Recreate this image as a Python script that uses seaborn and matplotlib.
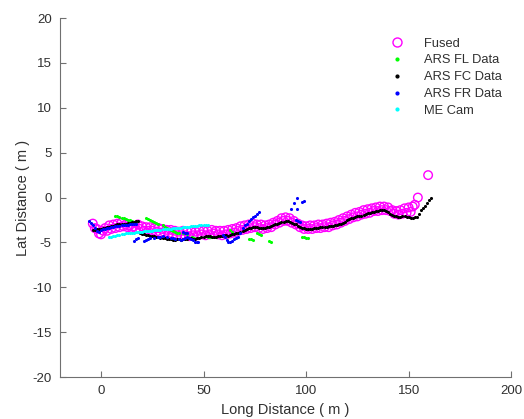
import matplotlib
matplotlib.use("Agg")
import matplotlib.pyplot as plt
from matplotlib.lines import Line2D
import seaborn as sns

# Fused track (open circles)
fused_x = [-4, -3, -2, -1, 0, 1, 2, 3, 4, 5,
           6, 7, 8, 9, 10, 11, 12, 13, 14, 15,
           16, 17, 18, 19, 20, 21, 22, 23, 24, 25,
           26, 27, 28, 29, 30, 31, 32, 33, 34, 35,
           36, 37, 38, 39, 40, 41, 42, 43, 44, 45,
           46, 47, 48, 49, 50, 51, 52, 53, 54, 55,
           56, 57, 58, 59, 60, 61, 62, 63, 64, 65,
           66, 67, 68, 69, 70, 71, 72, 73, 74, 75,
           76, 77, 78, 79, 80, 81, 82, 83, 84, 85,
           86, 87, 88, 89, 90, 91, 92, 93, 94, 95,
           96, 97, 98, 99, 100, 101, 102, 103, 104, 105,
           106, 107, 108, 109, 110, 111, 112, 113, 114, 115,
           116, 117, 118, 119, 120, 121, 122, 123, 124, 125,
           126, 127, 128, 129, 130, 131, 132, 133, 134, 135,
           136, 137, 138, 139, 140, 141, 142, 143, 144, 145,
           146, 147, 148, 149, 150, 151, 152, 153, 154.5, 159.5]
fused_y = [-2.9, -3.4, -3.5, -4.0, -4.1, -3.7, -3.4, -3.7, -3.1, -3.5,
           -3.0, -3.4, -2.9, -3.3, -2.8, -3.2, -3.0, -3.3, -3.1, -3.4,
           -3.2, -3.5, -3.0, -3.5, -3.2, -3.7, -3.3, -3.7, -3.3, -3.7,
           -3.4, -3.8, -3.4, -3.9, -3.5, -3.9, -3.6, -4.0, -3.6, -4.1,
           -3.7, -4.2, -3.8, -4.2, -3.7, -4.2, -3.8, -4.3, -3.8, -4.2,
           -3.8, -4.2, -3.7, -4.1, -3.7, -4.2, -3.7, -4.1, -3.6, -4.0,
           -3.7, -4.1, -3.7, -4.2, -3.7, -4.1, -3.6, -4.0, -3.5, -3.9,
           -3.4, -3.7, -3.2, -3.6, -3.1, -3.5, -3.0, -3.4, -2.9, -3.3,
           -3.0, -3.4, -3.0, -3.5, -3.1, -3.4, -3.0, -3.3, -2.8, -3.0,
           -2.6, -2.8, -2.3, -2.6, -2.2, -2.6, -2.3, -2.8, -2.6, -3.0,
           -2.9, -3.3, -3.1, -3.5, -3.2, -3.5, -3.1, -3.5, -3.1, -3.4,
           -3.0, -3.4, -3.0, -3.3, -2.9, -3.3, -2.8, -3.1, -2.7, -3.0,
           -2.5, -2.8, -2.3, -2.6, -2.1, -2.4, -1.9, -2.2, -1.7, -2.1,
           -1.6, -1.9, -1.4, -1.8, -1.3, -1.7, -1.2, -1.5, -1.1, -1.5,
           -1.0, -1.4, -1.0, -1.4, -1.1, -1.5, -1.4, -1.8, -1.5, -1.9,
           -1.4, -1.8, -1.2, -1.7, -1.1, -1.6, -1.0, -0.8, 0.0, 2.5]

# ARS front-left radar
fl_x = [7, 8, 9, 10, 11, 12, 13, 14, 15, 16, 17,
        22, 23, 24, 25, 26, 27, 28,
        30, 31, 32, 33, 34, 35, 36,
        37, 38, 40, 41, 42, 44.6, 45.5, 52, 53, 54, 55,
        63, 64, 72, 73, 74, 76, 77, 78, 82, 83, 98, 99, 100, 101]
fl_y = [-2.0, -2.1, -2.2, -2.3, -2.3, -2.4, -2.5, -2.5, -2.6, -2.7, -2.7,
        -2.3, -2.4, -2.5, -2.6, -2.7, -2.8, -3.0,
        -3.1, -3.3, -3.4, -3.5, -3.6, -3.7, -3.8,
        -3.9, -4.0, -3.9, -4.0, -4.1, -4.4, -4.5, -4.4, -4.4, -4.4, -4.4,
        -3.6, -3.8, -4.6, -4.6, -4.7, -4.0, -4.1, -4.2, -4.8, -4.9, -4.4, -4.4, -4.5, -4.5]

# ARS front-centre radar
fc_x = [-4, -3, -2, -1, 0, 1, 2, 3, 4, 5, 6, 7, 8, 9, 10, 11, 12, 13, 14, 15, 16, 17, 18,
        19, 20, 21, 22, 23, 24, 25, 26, 27, 28, 29, 30,
        31, 32, 33, 34, 35, 36, 37, 38, 39, 40,
        41, 42, 43, 44, 45, 46, 47, 48, 49, 50,
        51, 52, 53, 54, 55, 56, 57, 58, 59, 60,
        61, 62, 63, 64, 65, 66, 67, 68, 69, 70,
        71, 72, 73, 74, 75, 76, 77, 78, 79, 80,
        81, 82, 83, 84, 85, 86, 87, 88, 89, 90,
        91, 92, 93, 94, 95, 96, 97, 98, 99, 100,
        101, 102, 103, 104, 105, 106, 107, 108, 109, 110,
        111, 112, 113, 114, 115, 116, 117, 118, 119, 120,
        121, 122, 123, 124, 125, 126, 127, 128, 129, 130,
        131, 132, 133, 134, 135, 136, 137, 138, 139, 140,
        141, 142, 143, 144, 145, 146, 147, 148, 149, 150,
        151, 152, 153, 154, 155, 156, 157, 158, 159, 160, 161]
fc_y = [-3.6, -3.6, -3.5, -3.5, -3.5, -3.4, -3.4, -3.3, -3.3, -3.2, -3.2, -3.1, -3.0, -3.0,
        -3.0, -2.9, -2.9, -2.8, -2.8, -2.7, -2.7, -2.6, -2.6,
        -4.0, -4.1, -4.1, -4.2, -4.2, -4.3, -4.3, -4.3, -4.4, -4.4, -4.5, -4.5,
        -4.5, -4.6, -4.6, -4.6, -4.7, -4.7, -4.6, -4.6, -4.7, -4.6,
        -4.6, -4.6, -4.5, -4.5, -4.6, -4.6, -4.5, -4.5, -4.4, -4.4,
        -4.3, -4.3, -4.3, -4.4, -4.4, -4.4, -4.3, -4.3, -4.3, -4.2,
        -4.2, -4.3, -4.2, -4.1, -4.1, -4.0, -3.9, -3.8, -3.7, -3.6,
        -3.5, -3.4, -3.4, -3.3, -3.3, -3.3, -3.4, -3.4, -3.4, -3.4,
        -3.3, -3.3, -3.2, -3.1, -3.0, -2.9, -2.8, -2.7, -2.7, -2.6,
        -2.6, -2.7, -2.8, -2.9, -3.0, -3.2, -3.3, -3.4, -3.4, -3.5,
        -3.5, -3.5, -3.5, -3.4, -3.4, -3.4, -3.3, -3.3, -3.3, -3.3,
        -3.2, -3.2, -3.2, -3.1, -3.1, -3.0, -2.9, -2.8, -2.7, -2.5,
        -2.4, -2.3, -2.3, -2.2, -2.1, -2.0, -2.0, -1.9, -1.8, -1.7,
        -1.7, -1.6, -1.6, -1.5, -1.5, -1.4, -1.4, -1.4, -1.5, -1.6,
        -1.8, -1.9, -2.0, -2.1, -2.2, -2.2, -2.1, -2.1, -2.2, -2.2,
        -2.3, -2.3, -2.2, -2.2, -1.8, -1.4, -1.2, -0.9, -0.6, -0.3, 0.0]

# ARS front-right radar
fr_x = [-6, -5, -4, -3, -2, -1, 0, 1, 2, 3, 4, 5, 6, 7, 8, 9, 10, 11, 12, 13, 14, 15, 16, 17,
        16, 17, 18,
        21, 22, 23, 24, 26, 28, 29, 30, 32, 34, 35, 36, 38, 39, 40, 41, 42, 43, 44, 45,
        40, 41, 42, 46, 47, 47.5,
        59.5, 60.5, 61.5, 62,
        63, 64, 65, 66, 67, 68, 69, 70, 71, 72, 73, 74, 75, 76, 77,
        92.7, 94, 95.5, 95.6, 98, 99, 95, 96, 97]
fr_y = [-2.6, -2.8, -3.1, -3.4, -3.7, -3.8, -3.6, -3.5, -3.5, -3.4, -3.4, -3.3, -3.3, -3.2,
        -3.2, -3.2, -3.1, -3.1, -3.1, -3.1, -3.0, -3.0, -3.0, -3.0,
        -4.8, -4.6, -4.5,
        -4.8, -4.7, -4.6, -4.5, -4.5, -4.4, -4.4, -4.3, -4.4, -4.5, -4.5, -4.6, -4.6, -4.7,
        -4.6, -4.5, -4.4, -4.5, -4.6, -4.7,
        -3.8, -3.9, -4.0, -4.9, -5.0, -4.9,
        -4.2, -4.4, -4.7, -5.0,
        -4.9, -4.8, -4.6, -4.5, -4.4, -3.9, -3.4, -3.1, -2.9, -2.6, -2.4, -2.2, -2.0, -1.8, -1.6,
        -1.3, -0.6, 0.0, -1.3, -0.5, -0.4, -2.5, -2.6, -2.7]

# ME camera lane estimate
cam_x = [4, 5, 6, 7, 8, 9, 10, 11, 12, 13, 14, 15, 16, 17, 18, 19, 20, 21, 22, 23, 24, 25,
         26, 27, 28, 29, 30, 31, 32, 33, 34, 35, 36, 37, 38, 39, 40, 41, 42, 43, 44, 45,
         46, 47, 48, 49, 50, 51, 52]
cam_y = [-4.4, -4.4, -4.3, -4.3, -4.2, -4.2, -4.1, -4.1, -4.0, -4.0, -3.9, -3.9, -3.9,
         -3.8, -3.8, -3.8, -3.8, -3.7, -3.7, -3.7, -3.7, -3.7, -3.6, -3.6, -3.6, -3.6,
         -3.5, -3.5, -3.5, -3.5, -3.5, -3.4, -3.4, -3.4, -3.4, -3.4, -3.3, -3.3, -3.3,
         -3.3, -3.2, -3.2, -3.2, -3.2, -3.1, -3.1, -3.1, -3.1, -3.1]

x_ticks = [0, 50, 100, 150, 200]
y_ticks = [-20, -15, -10, -5, 0, 5, 10, 15, 20]

sns.set_style("white")
plt.rcParams["font.family"] = ["Liberation Sans", "DejaVu Sans"]
plt.rcParams["axes.unicode_minus"] = False

AX_COLOR = "#707070"
TXT_COLOR = "#303030"
MAGENTA = "#FF00FF"
GREEN = "#00FF00"
BLUE = "#0000FF"
CYAN = "#00FFFF"

fig = plt.figure(figsize=(5.24, 4.19), dpi=100)
ax = fig.add_axes([0.1145, 0.100, 0.861, 0.857])

sns.scatterplot(x=fused_x, y=fused_y, ax=ax, marker="o", s=38,
                facecolors="none", edgecolor=MAGENTA, linewidth=1.0, zorder=2)
sns.scatterplot(x=fl_x, y=fl_y, ax=ax, marker="o", s=5, color=GREEN, linewidth=0, zorder=3)
sns.scatterplot(x=fc_x, y=fc_y, ax=ax, marker="o", s=5, color="black", linewidth=0, zorder=4)
sns.scatterplot(x=fr_x, y=fr_y, ax=ax, marker="o", s=5, color=BLUE, linewidth=0, zorder=5)
sns.scatterplot(x=cam_x, y=cam_y, ax=ax, marker="o", s=5, color=CYAN, linewidth=0, zorder=6)

ax.set_xlim(-20, 200)
ax.set_ylim(-20, 20)
ax.set_xticks(x_ticks)
ax.set_yticks(y_ticks)
ax.tick_params(axis="both", which="major", bottom=True, left=True, direction="in",
               length=4, width=0.8, color=AX_COLOR, labelsize=9.5,
               labelcolor=TXT_COLOR, pad=6)
for side in ("top", "right"):
    ax.spines[side].set_visible(False)
for side in ("left", "bottom"):
    ax.spines[side].set_color(AX_COLOR)
    ax.spines[side].set_linewidth(0.8)

ax.set_xlabel("Long Distance ( m )", fontsize=10.5, color=TXT_COLOR, labelpad=4)
ax.set_ylabel("Lat Distance ( m )", fontsize=10.5, color=TXT_COLOR, labelpad=2)

handles = [
    Line2D([], [], linestyle="none", marker="o", markersize=6.5, markerfacecolor="none",
           markeredgecolor=MAGENTA, markeredgewidth=1.0),
    Line2D([], [], linestyle="none", marker="o", markersize=2.0, color=GREEN),
    Line2D([], [], linestyle="none", marker="o", markersize=2.0, color="black"),
    Line2D([], [], linestyle="none", marker="o", markersize=2.0, color=BLUE),
    Line2D([], [], linestyle="none", marker="o", markersize=2.0, color=CYAN),
]
labels = ["Fused", "ARS FL Data", "ARS FC Data", "ARS FR Data", "ME Cam"]
leg = ax.legend(handles, labels, loc="upper left", bbox_to_anchor=(0.715, 0.96),
                frameon=False, fontsize=9.3, handlelength=1.5, handletextpad=1.3,
                labelspacing=0.37, borderaxespad=0)
for t in leg.get_texts():
    t.set_color(TXT_COLOR)

fig.savefig("out.png", dpi=100)
